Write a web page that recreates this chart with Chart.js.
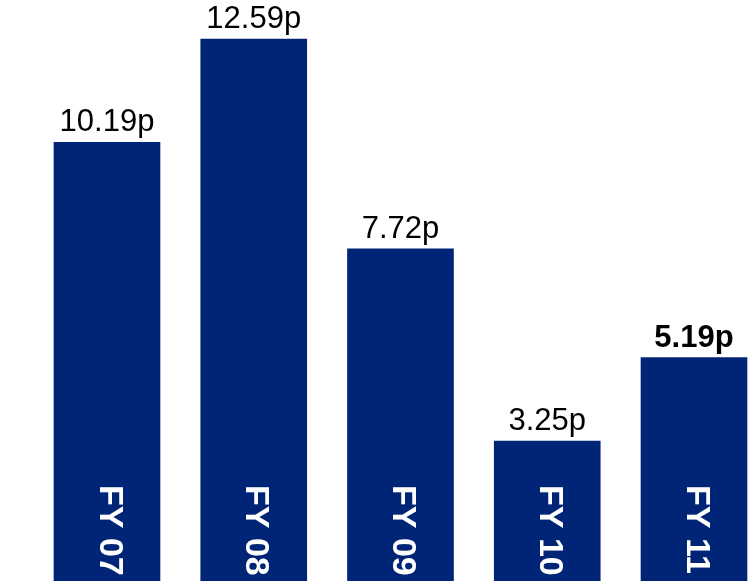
<!DOCTYPE html>
<html>
<head>
<meta charset="utf-8">
<script src="https://cdn.jsdelivr.net/npm/chart.js@4"></script>
<style>
  html, body { margin: 0; padding: 0; background: #fff; }
  #wrap { width: 756px; height: 581px; }
</style>
</head>
<body>
<div id="wrap"><canvas id="dpsChart" width="756" height="581"></canvas></div>
<script>
const years = ["FY 07", "FY 08", "FY 09", "FY 10", "FY 11"];
const dividends = [10.19, 12.59, 7.72, 3.25, 5.19];
const valueLabels = ["10.19p", "12.59p", "7.72p", "3.25p", "5.19p"];
const boldIndex = 4; // latest year is highlighted

const NAVY = "#002576";

// value above each bar, year written down the bar foot
const barLabels = {
  id: "barLabels",
  afterDatasetsDraw(chart) {
    const ctx = chart.ctx;
    const meta = chart.getDatasetMeta(0);
    meta.data.forEach((bar, i) => {
      ctx.save();
      ctx.fillStyle = "#000";
      ctx.textAlign = "center";
      ctx.textBaseline = "alphabetic";
      ctx.font = (i === boldIndex ? "bold " : "") + "31px 'Liberation Sans', Arial, sans-serif";
      ctx.fillText(valueLabels[i], bar.x, bar.y - 11);
      ctx.restore();

      ctx.save();
      ctx.translate(bar.x + 2, 485);
      ctx.rotate(Math.PI / 2);
      ctx.fillStyle = "#fff";
      ctx.textAlign = "left";
      ctx.textBaseline = "middle";
      ctx.font = "bold 34px 'Liberation Sans', Arial, sans-serif";
      ctx.fillText(years[i], 0, 0);
      ctx.restore();
    });
  }
};

new Chart(document.getElementById("dpsChart"), {
  type: "bar",
  data: {
    datasets: [{
      data: dividends.map((v, i) => ({ x: i, y: v })),
      backgroundColor: NAVY,
      borderWidth: 0,
      barThickness: 106
    }]
  },
  options: {
    responsive: false,
    devicePixelRatio: 1,
    animation: false,
    layout: { padding: 0 },
    plugins: {
      legend: { display: false },
      tooltip: { enabled: false }
    },
    scales: {
      x: { type: "linear", min: -0.729, max: 4.4225, offset: false, bounds: "ticks", display: false },
      y: { min: 0, max: 13.5, display: false }
    }
  },
  plugins: [barLabels]
});
</script>
</body>
</html>
